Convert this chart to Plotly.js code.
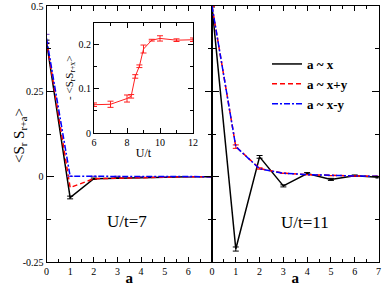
<!DOCTYPE html>
<html>
<head>
<meta charset="utf-8">
<script src="https://cdn.plot.ly/plotly-3.0.1.min.js"></script>
<style>
html,body{margin:0;padding:0;background:#fff;}
#chart{width:382px;height:286px;}
</style>
</head>
<body>
<div id="chart"></div>
<script>
// ---- data ----
const sepA = [0, 1, 2, 3, 4, 5, 6, 7];
// U/t = 7
const u7_x   = [0.395, -0.061, -0.006, -0.004, -0.002, -0.001, 0.0, 0.0];
const u7_x_err = [0.005, 0.004, 0.002, 0, 0, 0, 0, 0];
const u7_xpy = [0.400, -0.032, -0.006, -0.004, -0.002, -0.001, 0.0, 0.0];
const u7_xmy = [0.405, 0.001, 0.001, 0.001, 0.0, 0.0, 0.0, 0.0];
const u7_xmy_err = [0.012, 0, 0, 0, 0, 0, 0, 0];
// U/t = 11
const u11_x   = [0.500, -0.212, 0.058, -0.027, 0.009, -0.008, 0.003, -0.002];
const u11_x_err = [0.003, 0.006, 0.004, 0.003, 0.003, 0.003, 0.002, 0.002];
const u11_xpy = [0.500, 0.088, 0.024, 0.010, 0.006, 0.003, 0.002, 0.001];
const u11_xmy = [0.500, 0.088, 0.023, 0.010, 0.006, 0.003, 0.002, 0.001];
const u11_xy_err = [0, 0.005, 0.002, 0, 0, 0, 0, 0];
// inset: -<S_r S_r+x> vs U/t
const insetU = [6, 7, 8, 8.25, 8.5, 8.75, 9, 9.5, 10, 11, 12];
const insetS = [0.064, 0.065, 0.078, 0.083, 0.128, 0.151, 0.190, 0.210, 0.214, 0.210, 0.211];
const insetErr = [0.004, 0.007, 0.008, 0.004, 0.004, 0.003, 0.009, 0.002, 0.006, 0.003, 0.004];

const legendNames = ['a ~ x', 'a ~ x+y', 'a ~ x-y'];
const leftTicks = [0, 1, 2, 3, 4, 5, 6];
const rightTicks = [0, 1, 2, 3, 4, 5, 6, 7];
const yTickVals = [-0.25, 0, 0.25, 0.5];
const yTickText = ['-0.25', '0', '0.25', '0.5'];

const FONT = 'Liberation Serif, Times New Roman, serif';

function errs(arr, color) {
  return {type: 'data', array: arr, visible: true, color: color, thickness: 1, width: 3};
}

const traces = [
  {x: sepA, y: u7_x, xaxis: 'x', yaxis: 'y', mode: 'lines', name: legendNames[0],
   line: {color: '#000000', width: 1.5}, error_y: errs(u7_x_err, '#000000'), legendgroup: 'a'},
  {x: sepA, y: u7_xpy, xaxis: 'x', yaxis: 'y', mode: 'lines', name: legendNames[1],
   line: {color: '#ff0000', width: 1.5, dash: '5px,3px'}, legendgroup: 'b'},
  {x: sepA, y: u7_xmy, xaxis: 'x', yaxis: 'y', mode: 'lines', name: legendNames[2],
   line: {color: '#0000ff', width: 1.5, dash: '6px,2px,2px,2px'}, error_y: errs(u7_xmy_err, '#7744cc'), legendgroup: 'c'},
  {x: sepA, y: u11_x, xaxis: 'x2', yaxis: 'y2', mode: 'lines', showlegend: false,
   line: {color: '#000000', width: 1.5}, error_y: errs(u11_x_err, '#000000')},
  {x: sepA, y: u11_xpy, xaxis: 'x2', yaxis: 'y2', mode: 'lines', showlegend: false,
   line: {color: '#ff0000', width: 1.5, dash: '5px,3px'}, error_y: errs(u11_xy_err, '#ff0000')},
  {x: sepA, y: u11_xmy, xaxis: 'x2', yaxis: 'y2', mode: 'lines', showlegend: false,
   line: {color: '#0000ff', width: 1.5, dash: '6px,2px,2px,2px'}},
  {x: insetU, y: insetS, xaxis: 'x3', yaxis: 'y3', mode: 'lines', showlegend: false,
   line: {color: '#ff2020', width: 1}, error_y: errs(insetErr, '#ff2020')}
];

const W = 382, H = 286;
const px = v => v / W;
const py = v => 1 - v / H;

const axCommon = {
  showline: true, linecolor: '#000', linewidth: 1, mirror: 'ticks',
  ticks: 'inside', tickcolor: '#000', tickwidth: 1, showgrid: false, zeroline: false,
  tickfont: {family: FONT, size: 10, color: '#000'}, automargin: false
};

const layout = {
  width: W, height: H,
  margin: {l: 0, r: 0, t: 0, b: 0},
  paper_bgcolor: '#fff', plot_bgcolor: 'rgba(0,0,0,0)',
  font: {family: FONT, color: '#000'},
  showlegend: true,
  legend: {x: px(267), y: py(49), xanchor: 'left', yanchor: 'top', bgcolor: 'rgba(0,0,0,0)',
           font: {family: FONT, size: 13, color: '#000', weight: 'bold'}, tracegroupgap: 0},
  xaxis: Object.assign({}, axCommon, {domain: [px(46.5), px(212)], range: [0, 7], anchor: 'y',
    tickvals: leftTicks, ticklen: 5, minor: {dtick: 0.5, ticklen: 3, tickcolor: '#000', ticks: 'inside'},
    title: {text: '<b>a</b>', font: {family: FONT, size: 15}, standoff: 1}}),
  yaxis: Object.assign({}, axCommon, {domain: [py(262), py(6)], range: [-0.25, 0.5], anchor: 'x',
    tickvals: yTickVals, ticktext: yTickText, ticklen: 7,
    minor: {dtick: 0.125, ticklen: 4, tickcolor: '#000', ticks: 'inside'}}),
  xaxis2: Object.assign({}, axCommon, {domain: [px(212), px(378.5)], range: [0, 7], anchor: 'y2',
    tickvals: rightTicks, ticklen: 5, minor: {dtick: 0.5, ticklen: 3, tickcolor: '#000', ticks: 'inside'},
    title: {text: '<b>a</b>', font: {family: FONT, size: 15}, standoff: 1}}),
  yaxis2: Object.assign({}, axCommon, {domain: [py(262), py(6)], range: [-0.25, 0.5], anchor: 'x2',
    tickvals: yTickVals, showticklabels: false, ticklen: 7,
    minor: {dtick: 0.125, ticklen: 4, tickcolor: '#000', ticks: 'inside'}}),
  xaxis3: Object.assign({}, axCommon, {domain: [px(94), px(193)], range: [6, 12], anchor: 'y3',
    dtick: 2, tick0: 6, ticklen: 5, tickfont: {family: FONT, size: 10},
    minor: {dtick: 1, ticklen: 3, tickcolor: '#000', ticks: 'inside'},
    title: {text: 'U/t', font: {family: FONT, size: 12}, standoff: 1}}),
  yaxis3: Object.assign({}, axCommon, {domain: [py(133), py(22.5)], range: [0, 0.25], anchor: 'x3',
    tickvals: [0, 0.1, 0.2], ticktext: ['0', '0.1', '0.2'], ticklen: 5, tickfont: {family: FONT, size: 10},
    minor: {dtick: 0.05, ticklen: 3, tickcolor: '#000', ticks: 'inside'},
    title: {text: '- &lt;S<sub>r</sub>S<sub>r+x</sub>&gt;', font: {family: FONT, size: 11}, standoff: 2}}),
  annotations: [
    {xref: 'paper', yref: 'paper', x: px(9), y: py(136), text: '&lt;S<sub>r</sub> S<sub>r+a</sub>&gt;',
     textangle: -90, showarrow: false, font: {family: FONT, size: 15, color: '#000'}},
    {xref: 'x', yref: 'y', x: 3.4, y: -0.13, text: 'U/t=7', showarrow: false,
     font: {family: FONT, size: 17, color: '#000'}},
    {xref: 'x2', yref: 'y2', x: 3.9, y: -0.135, text: 'U/t=11', showarrow: false,
     font: {family: FONT, size: 17, color: '#000'}}
  ]
};

Plotly.newPlot('chart', traces, layout, {displayModeBar: false, staticPlot: true});
</script>
</body>
</html>
